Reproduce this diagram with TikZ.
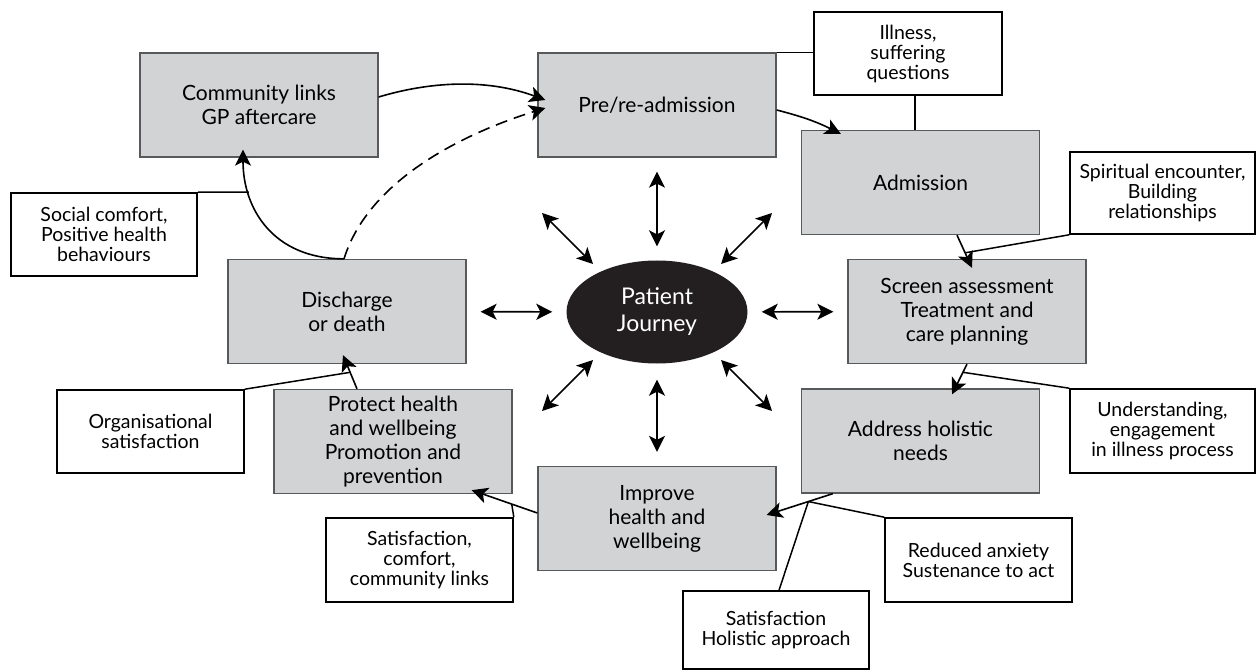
\documentclass[tikz,border=0pt]{standalone}
\usepackage{fontspec}
\setmainfont{Lato}
\usetikzlibrary{arrows.meta,shapes.geometric}

\definecolor{stagegray}{HTML}{D1D3D4}
\definecolor{edgegray}{HTML}{58595B}
\definecolor{journeyblack}{HTML}{231F20}

\begin{document}
\begin{tikzpicture}[x=1pt,y=-1pt,align=center,
  stage/.style={draw=edgegray,line width=1.3pt,fill=stagegray,
    minimum width=238pt,minimum height=104pt,inner sep=2pt,
    font=\fontsize{21}{24}\selectfont},
  note/.style={draw=black,line width=1.6pt,fill=white,
    minimum width=187pt,minimum height=83pt,inner sep=2pt,
    font=\fontsize{19.5}{20}\selectfont},
  flow/.style={-{Stealth[length=16pt,width=16pt,inset=4pt]},line width=1.6pt},
  link/.style={line width=1.5pt},
  dbl/.style={{Stealth[length=16pt,width=16pt,inset=4pt]}-{Stealth[length=16pt,width=16pt,inset=4pt]},line width=1.6pt}]
  \useasboundingbox (0,0) rectangle (1256,671);

  % the stages of the journey
  \node[stage] (community) at (259,105) {Community links\\GP aftercare};
  \node[stage] (pre) at (657,105) {Pre/re-admission};
  \node[stage] (admission) at (920.5,182.5) {Admission};
  \node[stage] (screen) at (967,311.5) {Screen assessment\\Treatment and\\care planning};
  \node[stage] (address) at (920.5,441) {Address holistic\\needs};
  \node[stage] (improve) at (657,518.5) {Improve\\health and\\wellbeing};
  \node[stage] (protect) at (393,441.5) {Protect health\\and wellbeing\\Promotion and\\prevention};
  \node[stage] (discharge) at (347,311.5) {Discharge\\or death};

  \node[ellipse,fill=journeyblack,text=white,minimum width=181pt,minimum height=103pt,
    font=\fontsize{23}{27}\selectfont] (journey) at (657,312) {Patient\\Journey};

  % outcomes
  \node[note,minimum width=186pt] (social) at (104,234.5) {Social comfort,\\Positive health\\behaviours};
  \node[note,minimum width=188pt] (illness) at (908,53.5) {Illness,\\suffering\\questions};
  \node[note,minimum width=185pt,minimum height=82pt] (spiritual) at (1162.5,193) {Spiritual encounter,\\Building\\relationships};
  \node[note,minimum width=185pt,minimum height=84pt] (understanding) at (1162.5,431) {Understanding,\\engagement\\in illness process};
  \node[note,minimum height=84pt] (reduced) at (978.5,560) {Reduced anxiety\\Sustenance to act};
  \node[note,minimum width=186pt,minimum height=78pt] (holistic) at (776,630) {Satisfaction\\Holistic approach};
  \node[note,minimum height=84pt] (satcomfort) at (419.5,560) {Satisfaction,\\comfort,\\community links};
  \node[note] (organisational) at (150.5,431.5) {Organisational\\satisfaction};

  % the cycle
  \draw[flow] ([yshift=8pt]community.east) .. controls +(50,-15) and +(-60,-22) ..
    ([xshift=8pt,yshift=5pt]pre.west);
  \draw[flow] ([yshift=-5pt]pre.east) to[bend left=6] ([xshift=40pt,yshift=-4pt]admission.north west);
  \draw[flow] ([xshift=36.5pt]admission.south) -- coordinate[pos=.54] (jspir)
    ([xshift=5pt,yshift=-9pt]screen.north);
  \draw[flow] (screen.south) -- coordinate[pos=.27] (jund)
    ([xshift=31.5pt,yshift=-6pt]address.north);
  \draw[flow] ([xshift=32pt]address.south west) -- coordinate[pos=.37] (jaddr)
    ([xshift=-10pt,yshift=3.5pt]improve.east);
  \draw[flow] ([yshift=5.5pt]improve.west) -- coordinate[pos=.39] (jimp)
    ([xshift=-41pt,yshift=4pt]protect.south east);
  \draw[flow] ([xshift=-36pt]protect.north) -- coordinate[pos=.49] (jprot)
    ([xshift=-4pt,yshift=9pt]discharge.south);
  \draw[flow] ([xshift=-3pt]discharge.north) .. controls +(-70,0) and +(0,60) ..
    ([xshift=-16pt,yshift=8pt]community.south) coordinate[pos=.75] (jsoc);
  \draw[flow,dash pattern=on 12pt off 7pt] ([xshift=-3pt]discharge.north) .. controls +(25,-80) and +(-80,25) ..
    ([xshift=8pt,yshift=-3pt]pre.west);

  % outcomes to the cycle
  \draw[link] (social.north east) -- (jsoc);
  \draw[link] (pre.north east) -- (pre.north east -| illness.west);
  \draw[link] ([xshift=7pt]illness.south) -- ([xshift=7pt]illness.south |- admission.north);
  \draw[link] (spiritual.south west) -- (jspir);
  \draw[link] (understanding.north west) -- (jund);
  \draw[link] (reduced.north west) -- (jaddr);
  \draw[link] ([xshift=3pt]holistic.north) -- (jaddr);
  \draw[link] (satcomfort.north east) -- (jimp);
  \draw[link] (organisational.north east) -- (jprot);

  % everything goes both ways with the patient
  \draw[dbl,shorten <=14pt,shorten >=14pt] (journey) -- (pre);
  \draw[dbl,shorten <=14pt,shorten >=14pt] (journey) -- (screen);
  \draw[dbl,shorten <=16pt,shorten >=14pt] (journey) -- (improve);
  \draw[dbl,shorten <=14pt,shorten >=14pt] (journey) -- (discharge);
  \foreach \dx/\dy in {-1/-1,1/-1,-1/1,1/1}
    \draw[dbl] ([shift={(\dx*64,\dy*48)}]journey.center) -- ([shift={(\dx*115,\dy*99)}]journey.center);

\end{tikzpicture}
\end{document}
